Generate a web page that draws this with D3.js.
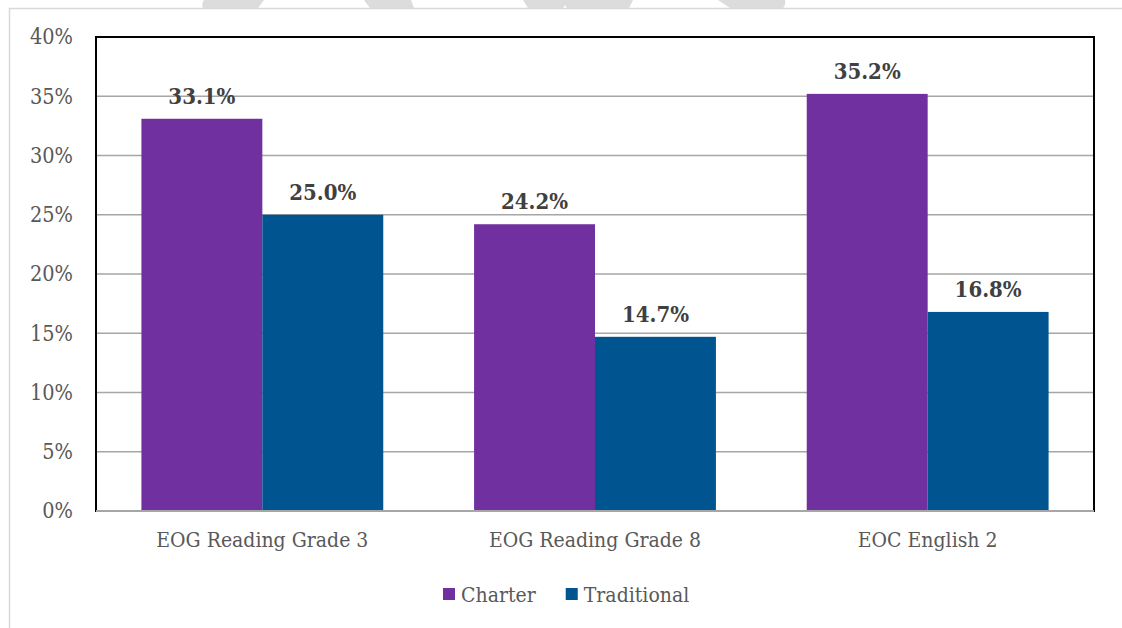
<!DOCTYPE html>
<html>
<head>
<meta charset="utf-8">
<script src="https://cdn.jsdelivr.net/npm/d3@7"></script>
<style>
  body { margin: 0; background: #fff; }
  text { font-family: "DejaVu Serif", serif; font-stretch: condensed; }
</style>
</head>
<body>
<div id="chart"></div>
<script>
const categories = ["EOG Reading Grade 3", "EOG Reading Grade 8", "EOC English 2"];
const seriesNames = ["Charter", "Traditional"];
const charter = [33.1, 24.2, 35.2];
const traditional = [25.0, 14.7, 16.8];
const yTicks = [0, 5, 10, 15, 20, 25, 30, 35, 40];
const colors = ["#7030A0", "#00548F"];

const width = 1122, height = 628;
const plot = { left: 96, right: 1094, top: 37, bottom: 511 };

const svg = d3.select("#chart").append("svg")
    .attr("width", width)
    .attr("height", height);

// faint watermark remnants along the top edge
const wm = svg.append("g").attr("fill", "#dcdcdc");
wm.append("path").attr("d", "M204,0 L264,0 L258,8 L203,8 Q201,4 204,0 Z");
wm.append("path").attr("d", "M364,0 L411,0 L414,8 L370,8 Z");
wm.append("path").attr("d", "M523,0 L633,0 L629,8 L567,8 L565,5 L563,8 L528,8 Z");
wm.append("path").attr("d", "M718,0 L785,0 Q786,5 783,8 L730,8 Z");

// outer frame (only top and left visible)
svg.append("path")
    .attr("d", `M9.5,${height} L9.5,8.5 L${width},8.5`)
    .attr("fill", "none")
    .attr("stroke", "#d9d9d9")
    .attr("stroke-width", 1.5);

const y = d3.scaleLinear().domain([0, 40]).range([plot.bottom, plot.top]);
const x0 = d3.scaleBand().domain(categories).range([plot.left, plot.right])
    .paddingInner(0.273).paddingOuter(0.1365);
const x1 = d3.scaleBand().domain(seriesNames).range([0, x0.bandwidth()]);

// gridlines
svg.append("g")
    .selectAll("line")
    .data(yTicks.filter(d => d > 0 && d < 40))
    .join("line")
    .attr("x1", plot.left).attr("x2", plot.right)
    .attr("y1", d => y(d)).attr("y2", d => y(d))
    .attr("stroke", "#a6a6a6")
    .attr("stroke-width", 1.5);

// bars
const rows = categories.map((c, i) => ({ cat: c, values: [charter[i], traditional[i]] }));
const groups = svg.append("g")
    .selectAll("g")
    .data(rows)
    .join("g")
    .attr("transform", d => `translate(${x0(d.cat)},0)`);

groups.selectAll("rect")
    .data(d => d.values.map((v, j) => ({ name: seriesNames[j], v, j })))
    .join("rect")
    .attr("x", d => x1(d.name))
    .attr("width", x1.bandwidth())
    .attr("y", d => y(d.v))
    .attr("height", d => y(0) - y(d.v))
    .attr("fill", d => colors[d.j]);

groups.selectAll("text")
    .data(d => d.values.map((v, j) => ({ name: seriesNames[j], v, j })))
    .join("text")
    .attr("x", d => x1(d.name) + x1.bandwidth() / 2)
    .attr("y", d => y(d.v) - 15)
    .attr("text-anchor", "middle")
    .attr("font-size", 22)
    .attr("font-weight", "bold")
    .attr("fill", "#404040")
    .text(d => d.v.toFixed(1) + "%");

// plot border
svg.append("rect")
    .attr("x", plot.left).attr("y", plot.top)
    .attr("width", plot.right - plot.left)
    .attr("height", plot.bottom - plot.top)
    .attr("fill", "none")
    .attr("stroke", "#000")
    .attr("stroke-width", 2);

// bottom axis line
svg.append("line")
    .attr("x1", plot.left).attr("x2", plot.right)
    .attr("y1", y(0)).attr("y2", y(0))
    .attr("stroke", "#a6a6a6")
    .attr("stroke-width", 2);

// y axis labels
const yAxis = svg.append("g")
    .attr("transform", `translate(${plot.left},0)`)
    .call(d3.axisLeft(y).tickValues(yTicks).tickSize(0).tickPadding(23).tickFormat(d => d + "%"));
yAxis.select(".domain").remove();
yAxis.selectAll("text")
    .attr("font-size", 21.5)
    .attr("font-family", null)
    .attr("fill", "#595959");

// x axis labels
const xAxis = svg.append("g")
    .attr("transform", `translate(0,${plot.bottom})`)
    .call(d3.axisBottom(x0).tickSize(0).tickPadding(21));
xAxis.select(".domain").remove();
xAxis.selectAll("text")
    .attr("font-size", 21)
    .attr("font-family", null)
    .attr("fill", "#595959");

// legend
const legend = svg.append("g");
let lx = 443;
seriesNames.forEach((name, i) => {
    legend.append("rect")
        .attr("x", lx).attr("y", 588)
        .attr("width", 12).attr("height", 12)
        .attr("fill", colors[i]);
    const t = legend.append("text")
        .attr("x", lx + 18).attr("y", 602)
        .attr("font-size", 21)
        .attr("fill", "#595959")
        .text(name);
    lx += 18 + t.node().getComputedTextLength() + 30;
});
</script>
</body>
</html>
